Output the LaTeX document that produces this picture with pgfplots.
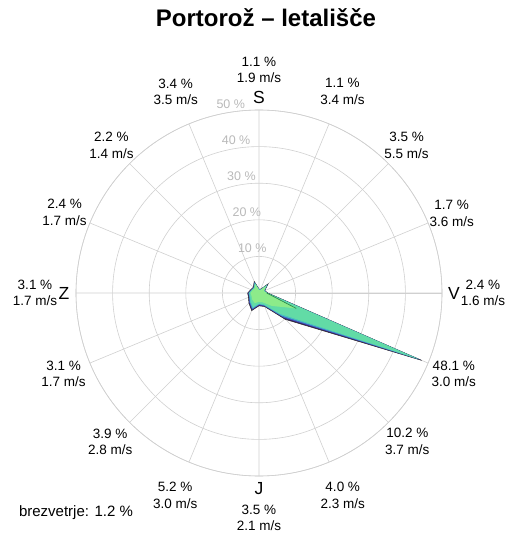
\documentclass[border=0pt]{standalone}
\usepackage{fontspec}
\setmainfont{Liberation Sans}
\usepackage{pgfplots}
\pgfplotsset{compat=1.18}
\usepgfplotslibrary{polar}
\usetikzlibrary{calc}
\definecolor{gridc}{RGB}{208,208,208}
\definecolor{ringlab}{RGB}{185,185,185}
\definecolor{cpurple}{RGB}{59,31,110}
\definecolor{cblue}{RGB}{64,99,200}
\definecolor{ccyan}{RGB}{72,191,192}
\definecolor{cteal}{RGB}{98,219,166}
\definecolor{clight}{RGB}{141,235,138}
\definecolor{cdkgreen}{RGB}{40,130,70}
\newcommand{\lab}[4]{\node[align=center,inner sep=0pt,font=\fontsize{13.5}{16.5}\selectfont] at (axis cs:#1,#2) {#3\\#4};}
\newcommand{\rlab}[3]{\node[inner sep=0pt,text=ringlab,font=\fontsize{12.5}{14}\selectfont] at (axis cs:#1,#2) {#3};}
\newcommand{\dlab}[3]{\node[inner sep=0pt,font=\fontsize{17.5}{20}\selectfont] at (axis cs:#1,#2) {#3};}
\begin{document}
\begin{tikzpicture}
\begin{polaraxis}[
  at={(0,0)}, anchor=center,
  scale only axis, width=366pt, height=366pt,
  ymin=0, ymax=50,
  xtick={0,22.5,45,67.5,90,112.5,135,157.5,180,202.5,225,247.5,270,292.5,315,337.5},
  ytick={10,20,30,40,50},
  xticklabels={}, yticklabels={},
  grid=major,
  major grid style={draw=gridc, line width=0.6pt},
  axis line style={draw=gridc, line width=0.6pt},
  major tick length=0pt,
  clip=false,
]
% total frequency (%) per direction, polar angle = 90 - compass
\addplot[fill=cpurple, draw=black!85, line width=0.5pt] coordinates {
 (90,1.1) (67.5,1.1) (45,3.5) (22.5,1.7) (0,2.4) (-22.5,48.1) (-45,10.2) (-67.5,4.0)
 (-90,3.5) (-112.5,5.2) (-135,3.9) (-157.5,3.1) (-180,3.1) (157.5,2.4) (135,2.2) (112.5,3.4) (90,1.1)};
\addplot[fill=cblue, draw=none] coordinates {
 (90,1.0) (67.5,1.0) (45,3.3) (22.5,1.6) (0,2.3) (-22.5,47.7) (-45,9.5) (-67.5,3.8)
 (-90,3.3) (-112.5,4.9) (-135,3.7) (-157.5,2.9) (-180,2.9) (157.5,2.3) (135,2.1) (112.5,3.2) (90,1.0)};
\addplot[fill=ccyan, draw=none] coordinates {
 (90,1.0) (67.5,1.0) (45,3.2) (22.5,1.6) (0,2.3) (-22.5,47.3) (-45,8.8) (-67.5,3.6)
 (-90,3.1) (-112.5,4.6) (-135,3.5) (-157.5,2.8) (-180,2.8) (157.5,2.2) (135,2.0) (112.5,3.1) (90,1.0)};
\addplot[fill=cteal, draw=none] coordinates {
 (90,0.9) (67.5,0.9) (45,3.0) (22.5,1.5) (0,2.2) (-22.5,46.9) (-45,8.0) (-67.5,3.4)
 (-90,2.9) (-112.5,4.2) (-135,3.2) (-157.5,2.6) (-180,2.6) (157.5,2.1) (135,1.9) (112.5,2.9) (90,0.9)};
\addplot[fill=clight, draw=none] coordinates {
 (90,0.8) (67.5,0.8) (45,2.7) (22.5,1.4) (0,2.1) (-22.5,11.0) (-45,5.0) (-67.5,2.8)
 (-90,2.4) (-112.5,3.0) (-135,2.6) (-157.5,2.2) (-180,2.3) (157.5,1.9) (135,1.7) (112.5,2.5) (90,0.8)};
\addplot[draw=cdkgreen, line width=0.6pt] coordinates {(0,2.1) (-22.5,11.0)};
\coordinate (c) at (axis cs:0,0);
% ring labels
\rlab{98.5}{12.4}{10 \%}
\rlab{98.5}{22.4}{20 \%}
\rlab{98.5}{32.4}{30 \%}
\rlab{98.5}{42.3}{40 \%}
\rlab{98.5}{52.2}{50 \%}
% direction letters
\dlab{90}{53.3}{S}
\dlab{0}{53.3}{V}
\dlab{-90}{53.3}{J}
\dlab{180}{53.3}{Z}
% sector labels
\lab{90}{61.0}{1.1 \%}{1.9 m/s}
\lab{67.5}{59.6}{1.1 \%}{3.4 m/s}
\lab{45}{57.0}{3.5 \%}{5.5 m/s}
\lab{22.5}{57.0}{1.7 \%}{3.6 m/s}
\lab{0}{61.2}{2.4 \%}{1.6 m/s}
\lab{-22.5}{57.6}{48.1 \%}{3.0 m/s}
\lab{-45}{57.3}{10.2 \%}{3.7 m/s}
\lab{-67.5}{59.8}{4.0 \%}{2.3 m/s}
\lab{-90}{61.4}{3.5 \%}{2.1 m/s}
\lab{-112.5}{59.8}{5.2 \%}{3.0 m/s}
\lab{-135}{57.5}{3.9 \%}{2.8 m/s}
\lab{-157.5}{57.8}{3.1 \%}{1.7 m/s}
\lab{180}{61.2}{3.1 \%}{1.7 m/s}
\lab{157.5}{57.5}{2.4 \%}{1.7 m/s}
\lab{135}{57.0}{2.2 \%}{1.4 m/s}
\lab{112.5}{59.5}{3.4 \%}{3.5 m/s}
\end{polaraxis}
\node[font=\bfseries\fontsize{24}{28}\selectfont, inner sep=0pt] at ($(c)+(7pt,275pt)$) {Portorož – letališče};
\node[font=\fontsize{15}{17}\selectfont, inner sep=0pt] at ($(c)+(-183pt,-220pt)$) {brezvetrje: 1.2 \%};
\pgfresetboundingbox
\path[use as bounding box] ($(c)+(-259pt,-241pt)$) rectangle ($(c)+(247pt,293pt)$);
\end{tikzpicture}
\end{document}
